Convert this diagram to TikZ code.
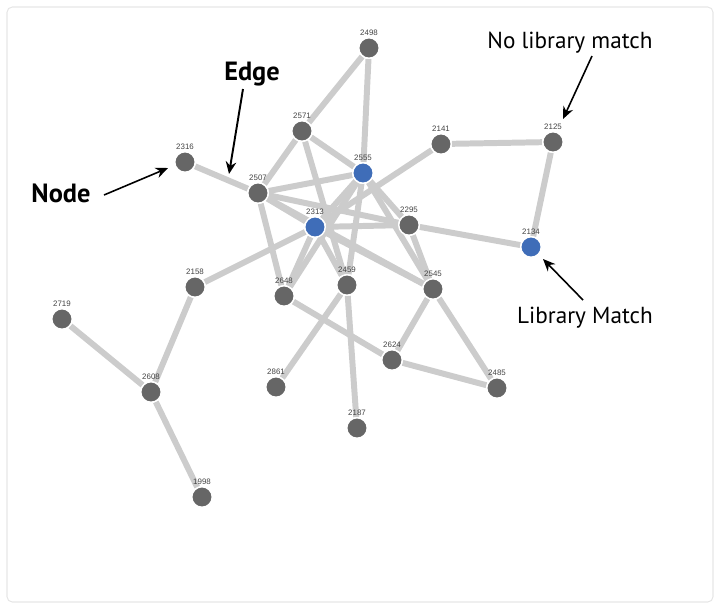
\documentclass[tikz,border=0pt]{standalone}
\usepackage{fontspec}
\setmainfont{PT Sans}
\newfontfamily\numfont{Liberation Sans}
\usepackage{xcolor}
\usetikzlibrary{arrows.meta,backgrounds}

\definecolor{nodegray}{HTML}{666666}
\definecolor{nodeblue}{HTML}{3F6DB8}
\definecolor{edgegray}{HTML}{CCCCCC}
\definecolor{framegray}{HTML}{E6E6E6}
\definecolor{idgray}{HTML}{444444}

\begin{document}
\begin{tikzpicture}[x=0.02cm,y=-0.02cm,>=Stealth,line join=round,
  vtx/.style={circle,fill=nodegray,draw=white,line width=0.8pt,
    minimum size=0.41cm,inner sep=0pt,
    label={[idtext]above:#1}},
  hit/.style={vtx=#1,fill=nodeblue},
  idtext/.style={font=\numfont\fontsize{4.5}{5}\selectfont,text=idgray,
    inner sep=0.6pt},
  link/.style={edgegray,line width=3.4pt},
  note/.style={font=\fontsize{13.2}{15}\selectfont,inner sep=0pt},
  pointer/.style={line width=0.9pt,arrows={-Stealth[length=7pt,width=6pt]}}]
  \useasboundingbox (0,0) rectangle (719,613);
  % nodes of the graph
  \node[vtx=2498] (n2498) at (369,48) {};
  \node[vtx=2571] (n2571) at (302,131) {};
  \node[vtx=2141] (n2141) at (441,144) {};
  \node[vtx=2125] (n2125) at (553,142) {};
  \node[vtx=2316] (n2316) at (185,162) {};
  \node[hit=2555] (n2555) at (363,173) {};
  \node[vtx=2507] (n2507) at (258,193) {};
  \node[hit=2313] (n2313) at (315,227) {};
  \node[vtx=2295] (n2295) at (409,225) {};
  \node[hit=2134] (n2134) at (531,247) {};
  \node[vtx=2158] (n2158) at (195,287) {};
  \node[vtx=2648] (n2648) at (284,296) {};
  \node[vtx=2459] (n2459) at (347,285) {};
  \node[vtx=2545] (n2545) at (433,289) {};
  \node[vtx=2719] (n2719) at (62,319) {};
  \node[vtx=2624] (n2624) at (392,360) {};
  \node[vtx=2608] (n2608) at (151,392) {};
  \node[vtx=2861] (n2861) at (276,387) {};
  \node[vtx=2485] (n2485) at (497,388) {};
  \node[vtx=2187] (n2187) at (357,428) {};
  \node[vtx=1998] (n1998) at (202,497) {};
  % edges behind the nodes
  \begin{scope}[on background layer]
    \draw[framegray,line width=0.6pt,rounded corners=3pt] (7,7) rectangle (713,602);
    \draw[link] (n2498) -- (n2571);
    \draw[link] (n2498) -- (n2555);
    \draw[link] (n2571) -- (n2507);
    \draw[link] (n2571) -- (n2555);
    \draw[link] (n2571) -- (n2459);
    \draw[link] (n2316) -- (n2507);
    \draw[link] (n2507) -- (n2555);
    \draw[link] (n2507) -- (n2313);
    \draw[link] (n2507) -- (n2295);
    \draw[link] (n2507) -- (n2545);
    \draw[link] (n2507) -- (n2648);
    \draw[link] (n2555) -- (n2313);
    \draw[link] (n2555) -- (n2648);
    \draw[link] (n2555) -- (n2459);
    \draw[link] (n2555) -- (n2295);
    \draw[link] (n2555) -- (n2545);
    \draw[link] (n2141) -- (n2313);
    \draw[link] (n2141) -- (n2125);
    \draw[link] (n2125) -- (n2134);
    \draw[link] (n2313) -- (n2295);
    \draw[link] (n2313) -- (n2459);
    \draw[link] (n2313) -- (n2545);
    \draw[link] (n2313) -- (n2158);
    \draw[link] (n2313) -- (n2648);
    \draw[link] (n2295) -- (n2134);
    \draw[link] (n2295) -- (n2545);
    \draw[link] (n2158) -- (n2608);
    \draw[link] (n2719) -- (n2608);
    \draw[link] (n2608) -- (n1998);
    \draw[link] (n2648) -- (n2624);
    \draw[link] (n2459) -- (n2861);
    \draw[link] (n2459) -- (n2187);
    \draw[link] (n2545) -- (n2624);
    \draw[link] (n2545) -- (n2485);
    \draw[link] (n2624) -- (n2485);
  \end{scope}
  % annotations
  \node[note,font=\fontsize{15}{17}\selectfont\bfseries] (nodetext) at (61,193) {Node};
  \node[note,font=\fontsize{15}{17}\selectfont\bfseries] (edgetext) at (252,74) {Edge};
  \node[note] (nomatch) at (570,43) {No library match};
  \node[note] (match) at (585,318) {Library Match};
  \coordinate (nodetail) at (104,195);
  \coordinate (nodetip) at (168,168);
  \coordinate (edgetail) at (243,89);
  \coordinate (edgetip) at (229,174);
  \coordinate (nomatchtail) at (592,56);
  \coordinate (nomatchtip) at (563,119);
  \coordinate (matchtail) at (583,300);
  \coordinate (matchtip) at (543,259);
  \draw[pointer] (nodetail) -- (nodetip);
  \draw[pointer,line width=1.1pt] (edgetail) -- (edgetip);
  \draw[pointer] (nomatchtail) -- (nomatchtip);
  \draw[pointer] (matchtail) -- (matchtip);
\end{tikzpicture}
\end{document}
